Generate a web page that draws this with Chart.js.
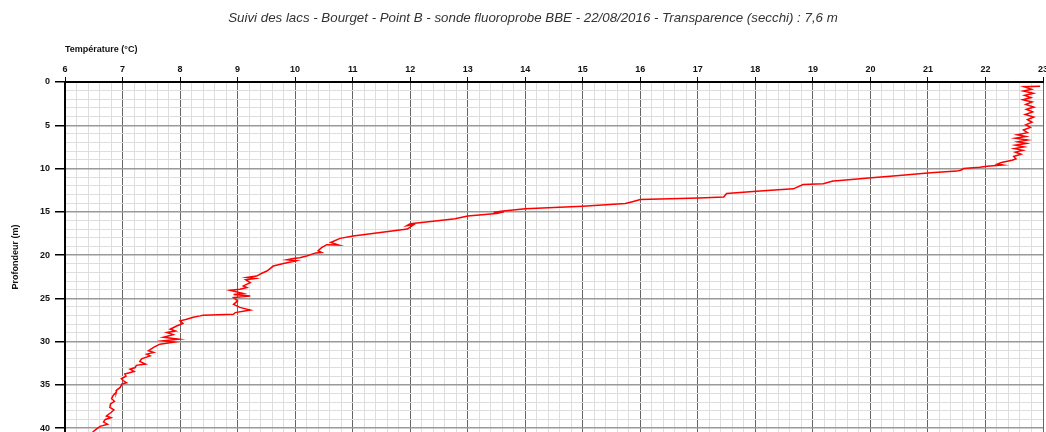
<!DOCTYPE html>
<html>
<head>
<meta charset="utf-8">
<script src="https://cdn.jsdelivr.net/npm/chart.js@4"></script>
<style>
  html, body { margin: 0; padding: 0; background: #ffffff; }
  #wrap { width: 1046px; height: 432px; }
</style>
</head>
<body>
<div id="wrap"><canvas id="profile" width="1046" height="432"></canvas></div>
<script>
// Text
const chartTitle = 'Suivi des lacs - Bourget - Point B - sonde fluoroprobe BBE - 22/08/2016 - Transparence (secchi) : 7,6 m';
const xAxisTitle = 'Température (°C)';
const yAxisTitle = 'Profondeur (m)';

// Temperature profile: depth (m) and temperature (°C), in sampling order
const depth = [
  0.50, 0.55, 0.85, 1.05, 1.30, 1.55, 1.80, 2.05, 2.30, 2.60,
  2.90, 3.15, 3.45, 3.75, 4.05, 4.35, 4.65, 4.95, 5.25, 5.55,
  5.85, 6.10, 6.30, 6.50, 6.70, 6.90, 7.10, 7.30, 7.50, 7.70,
  7.90, 8.10, 8.35, 8.60, 8.90, 9.05, 9.30, 9.50, 9.60, 9.75,
  9.85, 10.00, 10.20, 10.30, 10.50, 10.80, 11.10, 11.40, 11.45, 11.75,
  11.85, 12.35, 12.60, 12.88, 13.30, 13.40, 13.57, 13.80, 14.05, 14.35,
  14.65, 14.90, 15.05, 15.00, 15.20, 15.50, 15.80, 16.10, 16.38, 16.62,
  16.50, 17.00, 17.80, 18.07, 18.55, 18.85, 18.80, 19.15, 19.50, 19.70,
  19.75, 20.10, 20.30, 20.40, 20.55, 20.65, 21.00, 21.27, 21.85, 22.10,
  22.43, 22.60, 22.72, 22.85, 23.20, 23.57, 23.75, 23.96, 24.07, 24.45,
  24.55, 24.73, 24.92, 25.30, 25.70, 26.05, 26.35, 26.65, 26.85, 26.95,
  27.03, 27.20, 27.45, 27.60, 27.90, 28.20, 28.57, 28.77, 28.95, 29.20,
  29.50, 29.72, 29.90, 30.05, 30.30, 30.50, 30.68, 31.07, 31.25, 31.45,
  31.65, 32.00, 32.30, 32.60, 32.75, 33.00, 33.20, 33.45, 33.75, 34.00,
  34.30, 34.50, 34.75, 34.90, 35.30, 35.60, 35.87, 36.20, 36.60, 36.90,
  37.20, 37.60, 37.90, 38.20, 38.60, 38.80, 39.00, 39.30, 39.55, 39.80,
  40.10, 40.45
];
const temperature = [
  22.95, 22.67, 22.80, 22.66, 22.83, 22.68, 22.79, 22.65, 22.81, 22.70,
  22.84, 22.71, 22.82, 22.69, 22.84, 22.73, 22.81, 22.70, 22.78, 22.66,
  22.73, 22.55, 22.70, 22.52, 22.73, 22.56, 22.71, 22.52, 22.67, 22.50,
  22.65, 22.52, 22.62, 22.49, 22.53, 22.46, 22.28, 22.20, 22.30, 22.03,
  21.90, 21.62, 21.57, 21.50, 21.05, 20.50, 19.97, 19.42, 19.35, 19.18,
  18.83, 18.66, 18.08, 17.50, 17.45, 17.02, 16.00, 15.88, 15.74, 15.00,
  14.00, 13.62, 13.45, 13.63, 13.50, 13.00, 12.78, 12.40, 12.00, 11.94,
  12.06, 11.95, 11.01, 10.78, 10.62, 10.76, 10.55, 10.46, 10.40, 10.46,
  10.36, 10.20, 10.08, 9.97, 9.86, 10.02, 9.78, 9.62, 9.51, 9.42,
  9.33, 9.16, 9.30, 9.14, 9.22, 9.10, 9.16, 9.04, 8.87, 9.10,
  8.93, 9.22, 8.93, 9.00, 8.93, 9.04, 9.22, 8.96, 8.93, 8.40,
  8.35, 8.23, 8.10, 8.00, 8.05, 7.94, 7.83, 7.92, 7.77, 7.88,
  7.71, 7.98, 7.71, 7.90, 7.65, 7.59, 7.54, 7.45, 7.54, 7.42,
  7.48, 7.33, 7.30, 7.40, 7.24, 7.22, 7.13, 7.20, 7.04, 7.06,
  6.98, 7.01, 7.07, 6.99, 6.96, 6.90, 6.89, 6.84, 6.81, 6.86,
  6.79, 6.78, 6.85, 6.80, 6.72, 6.80, 6.70, 6.67, 6.74, 6.61,
  6.55, 6.48
];

// Axis ranges and tick steps
const tempRange = [6, 23];
const tempMinorStep = 0.2;
const depthRange = [0, 40.45];
const depthMinorStep = 1;
const depthMajorStep = 5;

const FONT = '"Liberation Sans", Arial, sans-serif';
const isWhole = v => Math.abs(v - Math.round(v)) < 1e-6;
const isDepthMajor = v => isWhole(v) && Math.round(v) % depthMajorStep === 0;

// Main heading centred above the plot
const headingPlugin = {
  id: 'heading',
  afterDraw(chart) {
    const ctx = chart.ctx;
    ctx.save();
    ctx.font = 'italic 13.3px ' + FONT;
    ctx.fillStyle = '#333333';
    ctx.textAlign = 'center';
    ctx.textBaseline = 'middle';
    ctx.fillText(chartTitle, 533, 18);
    ctx.restore();
  }
};

const points = depth.map((d, i) => ({ x: temperature[i], y: d }));

new Chart(document.getElementById('profile'), {
  type: 'scatter',
  data: {
    datasets: [{
      data: points,
      showLine: true,
      borderColor: '#ff0000',
      borderWidth: 1.5,
      pointRadius: 0,
      pointHoverRadius: 0,
      tension: 0,
      fill: false
    }]
  },
  options: {
    responsive: false,
    animation: false,
    devicePixelRatio: 1,
    layout: { padding: { top: 30, left: 0, right: 3, bottom: 0 } },
    plugins: {
      legend: { display: false },
      tooltip: { enabled: false },
      title: { display: false }
    },
    scales: {
      x: {
        type: 'linear',
        position: 'top',
        min: tempRange[0],
        max: tempRange[1],
        ticks: {
          stepSize: tempMinorStep,
          autoSkip: false,
          maxRotation: 0,
          padding: 2,
          color: '#111111',
          font: { family: FONT, size: 9, weight: 'bold' },
          callback: v => isWhole(v) ? String(Math.round(v)) : ''
        },
        grid: {
          color: c => isWhole(c.tick.value) ? '#666666' : '#dedede',
          tickColor: c => isWhole(c.tick.value) ? '#000000' : 'rgba(0,0,0,0)',
          tickLength: 5,
          lineWidth: 1
        },
        border: { color: '#000000', width: 2 },
        title: {
          display: true,
          text: xAxisTitle,
          align: 'start',
          color: '#111111',
          font: { family: FONT, size: 9, weight: 'bold' },
          padding: { top: 14, bottom: 0 }
        },
        afterFit(scale) {
          scale.height = 52;
          scale.paddingLeft = 0;
          scale.paddingRight = 0;
        }
      },
      y: {
        type: 'linear',
        reverse: true,
        min: depthRange[0],
        max: depthRange[1],
        ticks: {
          stepSize: depthMinorStep,
          includeBounds: false,
          autoSkip: false,
          padding: 5,
          color: '#111111',
          font: { family: FONT, size: 9, weight: 'bold' },
          callback: v => isDepthMajor(v) ? String(Math.round(v)) : ''
        },
        grid: {
          color: c => isDepthMajor(c.tick.value) ? '#999999' : '#dedede',
          lineWidth: c => isDepthMajor(c.tick.value) ? 1.5 : 1,
          tickColor: c => isDepthMajor(c.tick.value) ? '#000000' : 'rgba(0,0,0,0)',
          tickLength: 10
        },
        border: { color: '#000000', width: 2 },
        title: {
          display: true,
          text: yAxisTitle,
          color: '#111111',
          font: { family: FONT, size: 9, weight: 'bold' },
          padding: { top: 10, bottom: 0 }
        },
        afterFit(scale) {
          scale.width = 65;
          scale.paddingTop = 0;
          scale.paddingBottom = 0;
        }
      }
    }
  },
  plugins: [headingPlugin]
});
</script>
</body>
</html>
